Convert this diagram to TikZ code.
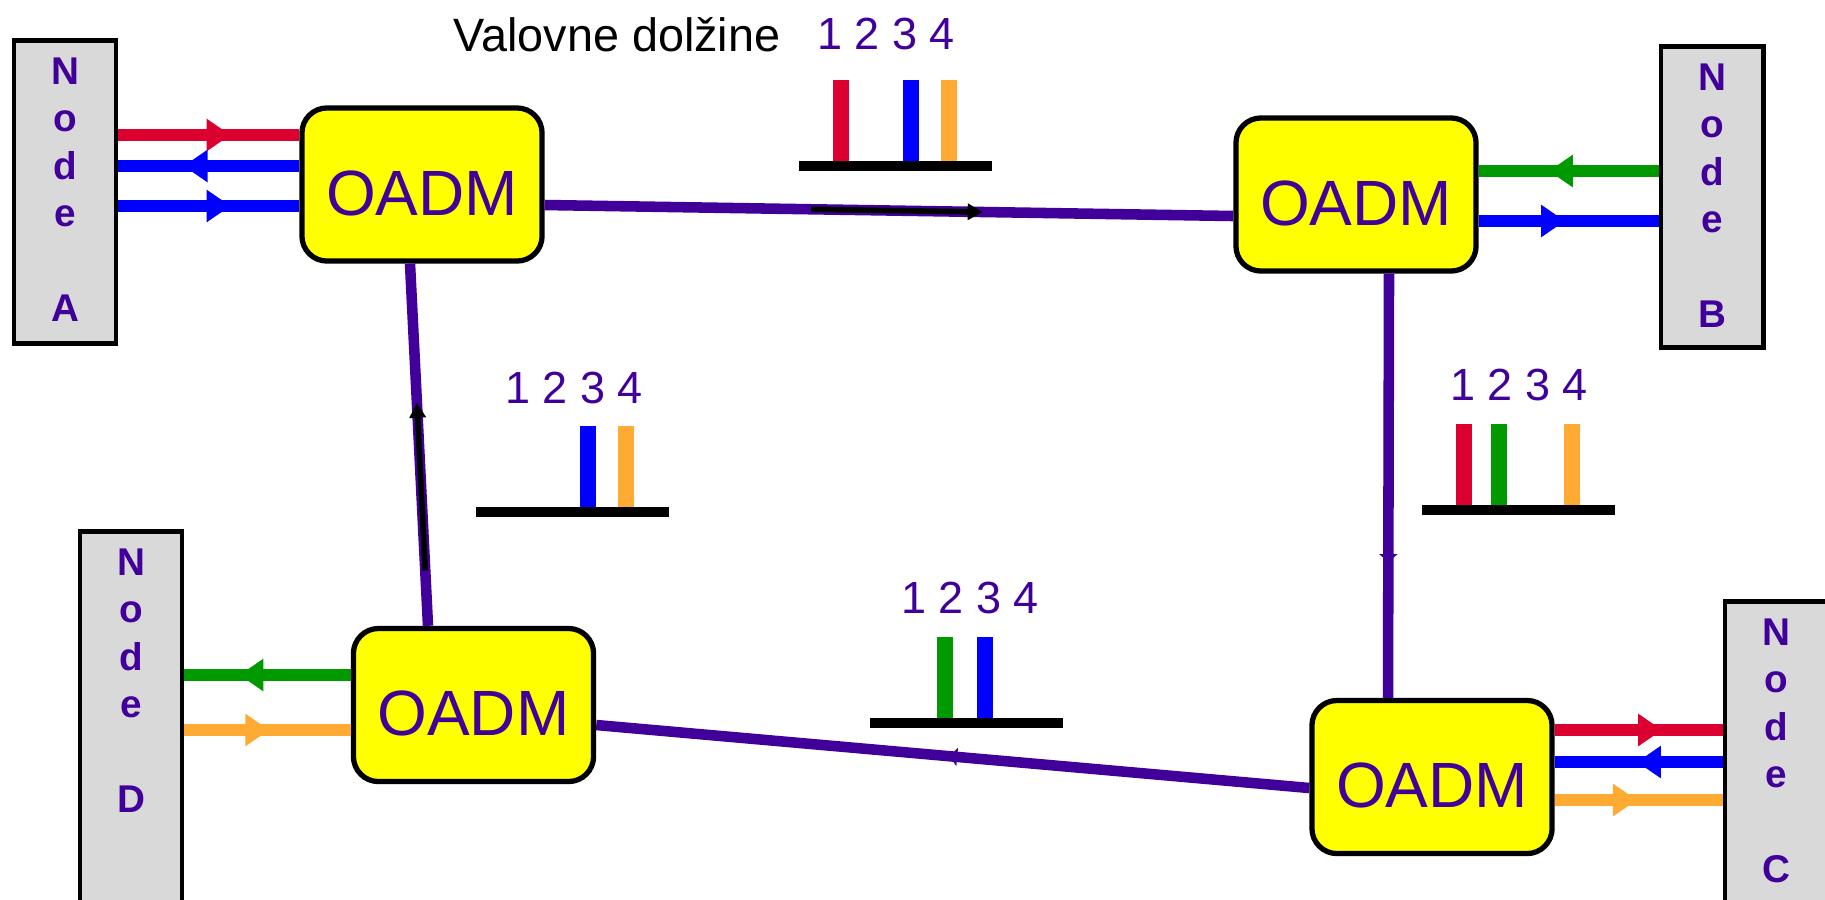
\documentclass[tikz,border=0pt]{standalone}
\usepackage{fontspec}
\setmainfont{Liberation Sans}
\usetikzlibrary{positioning,calc,arrows.meta,decorations.markings}

\definecolor{vijolicna}{HTML}{400099}
\definecolor{rdeca}{HTML}{DC0030}
\definecolor{modra}{HTML}{0000FF}
\definecolor{zelena}{HTML}{009900}
\definecolor{oranzna}{HTML}{FFAA33}
\definecolor{siva}{HTML}{D9D9D9}
\definecolor{rumena}{HTML}{FFFF00}

\tikzset{
  oadm/.style={draw=black,line width=1.5pt,fill=rumena,rounded corners=0.25cm,
    minimum width=2.4cm,minimum height=1.53cm,inner sep=0pt,
    text height=17.4pt,text depth=0pt,
    text=vijolicna,font=\fontsize{18.2}{22}\selectfont},
  vozlisce/.style={draw=black,line width=1.4pt,fill=siva,minimum width=1.02cm,inner sep=0pt},
  napis/.style={text=vijolicna,font=\fontsize{11}{13.4}\selectfont\bfseries,align=center,inner sep=0pt},
  signal/.style={line width=3.6pt,postaction={decorate},
    decoration={markings,mark=at position #1 with {\arrow{Triangle[length=0.24cm,width=0.31cm]}}}},
  povezava/.style={line width=3pt,vijolicna},
  puscica/.style={postaction={decorate},
    decoration={markings,mark=at position #1 with {\arrow{Triangle[length=0.08cm,width=0.18cm]}}}},
  smer/.style={line width=1.6pt,black,-{Triangle[length=0.15cm,width=0.16cm]}},
  osnova/.style={line width=3pt,black},
  kanal/.style={line width=0.16cm},
  stevke/.style={text=vijolicna,font=\fontsize{12.8}{15}\selectfont,inner sep=0pt}
}

\begin{document}
\begin{tikzpicture}[x=0.01cm,y=-0.01cm]
  \useasboundingbox (0,0) rectangle (1825,899);
  \clip (0,0) rectangle (1825,899);

  % OADM v obrocu
  \node[oadm] (oadmA) at (422,184.5) {OADM};
  \node[oadm] (oadmB) at (1356,194.5) {OADM};
  \node[oadm] (oadmC) at (1432,777) {OADM};
  \node[oadm] (oadmD) at (473.5,705) {OADM};

  % koncna vozlisca
  \node[vozlisce,minimum height=3.02cm] (nodeA) at (65,192) {};
  \node[vozlisce,minimum height=3cm] (nodeB) at (1712,197) {};
  \node[vozlisce,minimum height=3.2cm] (nodeC) at (1776,762) {};
  \node[vozlisce,minimum height=3.7cm] (nodeD) at (131,717) {};
  \foreach \n in {A,B,C,D}
    \node[napis,below=0.19cm of node\n.north] (napis\n) {N\\o\\d\\e\\[13.6pt]\n};

  % obroc: A -> B -> C -> D -> A
  \coordinate (ab) at (oadmA.east |- 0,205);
  \coordinate (ba) at (oadmB.west |- 0,216);
  \coordinate (da) at (oadmD.north -| 428,0);
  \coordinate (ad) at (oadmA.south -| 410,0);
  \draw[povezava] (ab) -- (ba);
  \draw[povezava,puscica=0.68] (oadmB.south -| 1389,0) -- (oadmC.north -| 1388,0);
  \draw[povezava,puscica=0.505] (oadmC.west |- 0,788) -- (oadmD.east |- 0,725);
  \draw[povezava] (da) -- (ad);
  \draw[smer] ($(ab)!0.387!(ba)$) -- ($(ab)!0.636!(ba)$);
  \draw[smer] ($(da)!0.153!(ad)$) -- ($(da)!0.616!(ad)$);

  % dodajanje in odvzemanje valovnih dolzin
  \draw[signal=0.62,rdeca] (nodeA.east |- 0,135) -- (oadmA.west |- 0,135);
  \draw[signal=0.64,modra] (oadmA.west |- 0,166) -- (nodeA.east |- 0,166);
  \draw[signal=0.62,modra] (nodeA.east |- 0,206) -- (oadmA.west |- 0,206);
  \draw[signal=0.61,zelena] (nodeB.west |- 0,171) -- (oadmB.east |- 0,171);
  \draw[signal=0.48,modra] (oadmB.east |- 0,221) -- (nodeB.west |- 0,221);
  \draw[signal=0.64,rdeca] (oadmC.east |- 0,730) -- (nodeC.west |- 0,730);
  \draw[signal=0.51,modra] (nodeC.west |- 0,762) -- (oadmC.east |- 0,762);
  \draw[signal=0.49,oranzna] (oadmC.east |- 0,800) -- (nodeC.west |- 0,800);
  \draw[signal=0.67,zelena] (oadmD.west |- 0,675) -- (nodeD.east |- 0,675);
  \draw[signal=0.51,oranzna] (nodeD.east |- 0,730) -- (oadmD.west |- 0,730);

  % spektri na povezavah
  \foreach \px/\py/\kanali in {799/166/{42/rdeca,112/modra,150/oranzna},
      476/512/{112/modra,150/oranzna},
      1422/510/{42/rdeca,77/zelena,150/oranzna},
      870/723/{75/zelena,115/modra}} {
    \begin{scope}[shift={(\px,\py)}]
      \foreach \x/\c in \kanali
        \draw[kanal,\c] (\x,0) -- (\x,-86);
      \draw[osnova] (0,0) -- (193,0);
    \end{scope}
  }
  \node[stevke] (stAB) at (886,34) {1 2 3 4};
  \node[stevke] (stDA) at (574,388) {1 2 3 4};
  \node[stevke] (stBC) at (1519,385) {1 2 3 4};
  \node[stevke] (stCD) at (970,598) {1 2 3 4};
  \node[font=\fontsize{13.3}{16}\selectfont,inner sep=0pt] (valovne) at (617,35) {Valovne dolžine};
\end{tikzpicture}
\end{document}
